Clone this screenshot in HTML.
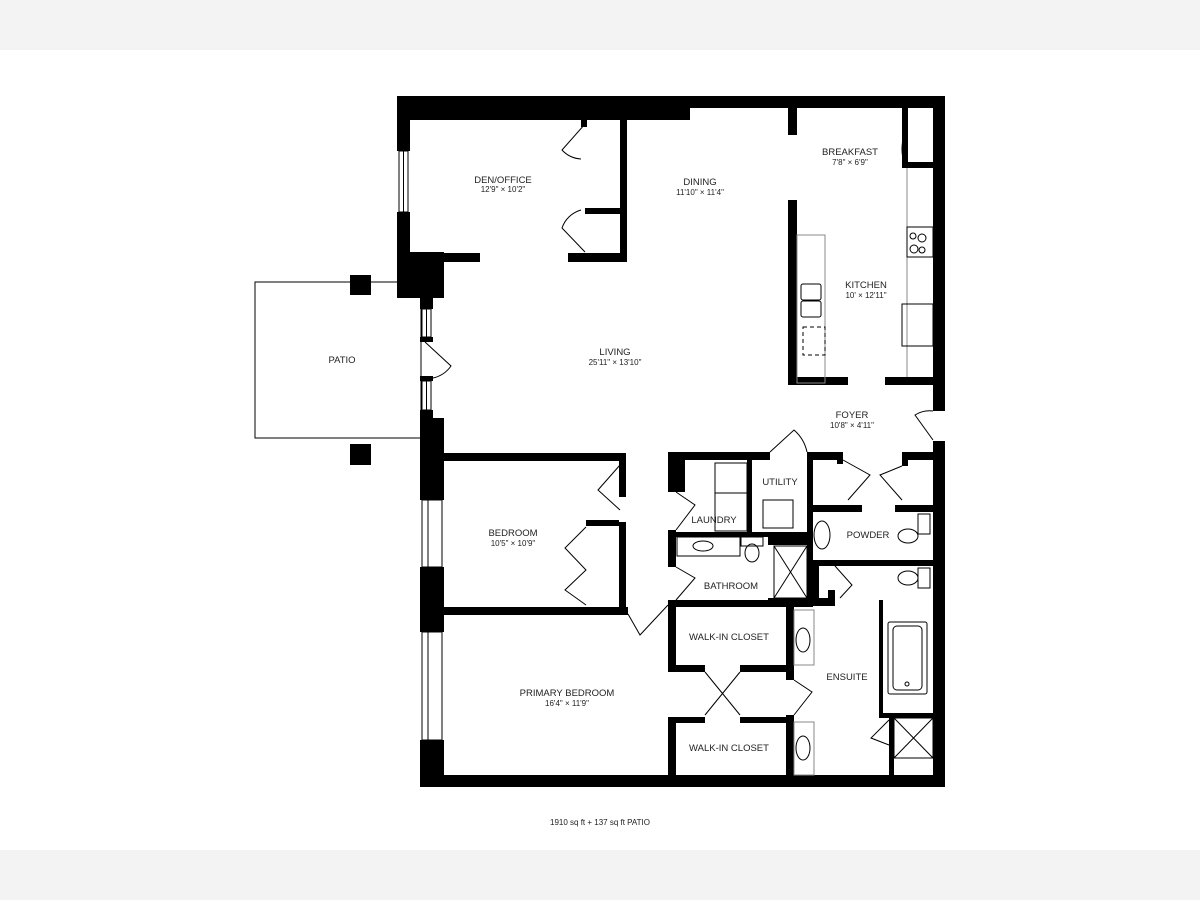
<!DOCTYPE html>
<html><head><meta charset="utf-8"><style>
html,body{margin:0;padding:0;background:#fff}
body{width:1200px;height:900px;overflow:hidden;position:relative}
.band{position:absolute;left:0;width:1200px;height:50px;background:#f3f3f3}
svg{position:absolute;left:0;top:0}
text{font-family:"Liberation Sans",sans-serif;fill:#222;text-anchor:middle}
.l{font-size:9.5px}
.d{font-size:8px}
</style></head><body>
<div class="band" style="top:0"></div>
<div class="band" style="top:850px"></div>
<svg width="1200" height="900" viewBox="0 0 1200 900">
<!-- patio -->
<rect x="255" y="282" width="166" height="156" fill="none" stroke="#000" stroke-width="1"/>
<rect x="350" y="275" width="21" height="20" fill="#000"/>
<rect x="350" y="444" width="21" height="21" fill="#000"/>
<g fill="#000">
<!-- outer walls -->
<rect x="397" y="96" width="293" height="24"/>
<rect x="690" y="96" width="255" height="12"/>
<rect x="933" y="96" width="12" height="315"/>
<rect x="933" y="441" width="12" height="346"/>
<rect x="420" y="775" width="525" height="12"/>
<rect x="397" y="96" width="13" height="55"/>
<rect x="397" y="212" width="13" height="50"/>
<rect x="397" y="252" width="47" height="46"/>
<rect x="420" y="298" width="13" height="11"/>
<rect x="420" y="337" width="13" height="5"/>
<rect x="420" y="376" width="13" height="5"/>
<rect x="420" y="410" width="13" height="8"/>
<rect x="420" y="418" width="24" height="82"/>
<rect x="420" y="567" width="24" height="65"/>
<rect x="420" y="740" width="24" height="47"/>
<!-- den -->
<rect x="410" y="253" width="70" height="9"/>
<rect x="568" y="253" width="59" height="9"/>
<rect x="620" y="120" width="7" height="142"/>
<rect x="585" y="208" width="42" height="6"/>
<rect x="581" y="115" width="6" height="12"/>
<!-- kitchen / breakfast -->
<rect x="788" y="108" width="9" height="27"/>
<rect x="788" y="200" width="9" height="185"/>
<rect x="788" y="377" width="60" height="8"/>
<rect x="885" y="377" width="60" height="8"/>
<rect x="902" y="108" width="6" height="60"/>
<rect x="902" y="162" width="31" height="6"/>
<!-- bedroom -->
<rect x="444" y="453" width="182" height="8"/>
<rect x="619" y="461" width="7" height="36"/>
<rect x="619" y="522" width="7" height="93"/>
<rect x="586" y="520" width="33" height="6"/>
<rect x="444" y="607" width="184" height="8"/>
<!-- laundry/utility/bath -->
<rect x="668" y="452" width="102" height="8"/>
<rect x="668" y="452" width="17" height="40"/>
<rect x="668" y="530" width="8" height="37"/>
<rect x="747" y="460" width="5" height="72"/>
<rect x="668" y="532" width="145" height="5"/>
<rect x="768" y="532" width="45" height="13"/>
<rect x="807" y="452" width="6" height="155"/>
<rect x="807" y="452" width="36" height="8"/>
<rect x="837" y="452" width="6" height="12"/>
<rect x="902" y="452" width="31" height="8"/>
<rect x="902" y="452" width="6" height="14"/>
<rect x="813" y="505" width="49" height="7"/>
<rect x="895" y="505" width="38" height="7"/>
<rect x="813" y="560" width="120" height="6"/>
<rect x="668" y="600" width="145" height="7"/>
<rect x="768" y="598" width="45" height="9"/>
<rect x="813" y="566" width="6" height="40"/>
<rect x="813" y="598" width="22" height="8"/>
<rect x="828" y="590" width="7" height="16"/>
<!-- walk-in closets -->
<rect x="668" y="600" width="8" height="72"/>
<rect x="668" y="665" width="37" height="7"/>
<rect x="740" y="665" width="54" height="7"/>
<rect x="786" y="600" width="8" height="80"/>
<rect x="786" y="715" width="8" height="60"/>
<rect x="668" y="717" width="37" height="6"/>
<rect x="740" y="717" width="54" height="6"/>
<rect x="668" y="717" width="8" height="58"/>
<!-- ensuite -->
<rect x="879" y="600" width="4" height="118"/>
<rect x="879" y="713" width="54" height="5"/>
<rect x="889" y="718" width="5" height="57"/>
</g>
<g fill="none" stroke="#000" stroke-width="1">
<!-- windows -->
<rect x="399" y="151" width="9" height="61"/><line x1="403.5" y1="151" x2="403.5" y2="212"/>
<rect x="422" y="309" width="9" height="28"/><line x1="426.5" y1="309" x2="426.5" y2="337"/>
<rect x="422" y="381" width="9" height="29"/><line x1="426.5" y1="381" x2="426.5" y2="410"/>
<rect x="422" y="500" width="20" height="67"/><line x1="428" y1="500" x2="428" y2="567"/>
<rect x="422" y="632" width="20" height="108"/><line x1="428" y1="632" x2="428" y2="740"/>
<rect x="790" y="275" width="6" height="67"/>
<!-- doors -->
<path d="M425 342 L451 366 A30 30 0 0 1 433 378"/>
<path d="M585 124 L562 150 A28 28 0 0 0 581 159"/>
<path d="M585 252 L562 228 A28 28 0 0 1 581 210"/>
<path d="M904 110 Q910 125 904 135 Q900 150 904 162"/>
<path d="M620 465 L598 490 L620 510"/>
<path d="M586 527 L565 548 L586 570 L565 590 L586 605"/>
<path d="M628 614 L640 635 L668 605"/>
<path d="M676 492 L695 505 L676 530"/>
<path d="M676 567 L695 578 L676 600"/>
<path d="M770 452 L794 430 A40 40 0 0 1 807 452"/>
<path d="M843 460 L870 475 L848 500"/>
<path d="M902 466 L880 475 L902 500"/>
<path d="M933 440 L915 415 A28 28 0 0 1 933 411"/>
<path d="M835 566 L852 585 L840 598"/>
<path d="M705 672 L740 715 M740 672 L705 715"/>
<path d="M794 680 L812 692 L794 715"/>
<path d="M889 720 L871 738 L889 745"/>
<!-- kitchen fixtures -->
<rect x="797" y="235" width="28" height="148" stroke="#888"/>
<rect x="801" y="284" width="20" height="16" rx="2"/><rect x="801" y="301" width="20" height="16" rx="2"/>
<rect x="803" y="327" width="22" height="28" stroke-dasharray="4 3"/>
<line x1="907" y1="168" x2="907" y2="377" stroke="#888"/>
<rect x="907" y="227" width="26" height="30"/>
<circle cx="913" cy="236" r="3"/><circle cx="922" cy="238" r="4"/><circle cx="914" cy="249" r="4"/><circle cx="922" cy="250" r="3"/>
<rect x="902" y="304" width="31" height="42"/>
<!-- laundry/utility -->
<rect x="715" y="463" width="32" height="30"/><rect x="715" y="493" width="32" height="38"/>
<rect x="763" y="500" width="30" height="28"/>
<rect x="677" y="537" width="63" height="19"/><ellipse cx="703" cy="546" rx="10" ry="5"/>
<rect x="741" y="537" width="22" height="9"/><ellipse cx="752" cy="553" rx="7" ry="9"/>
<rect x="774" y="546" width="33" height="52"/><path d="M774 546 L807 598 M807 546 L774 598"/>
<ellipse cx="822" cy="535" rx="8" ry="14"/>
<rect x="918" y="514" width="12" height="20"/><ellipse cx="908" cy="536" rx="10" ry="7"/>
<rect x="918" y="568" width="12" height="20"/><ellipse cx="908" cy="578" rx="10" ry="7"/>
<rect x="794" y="610" width="20" height="55" stroke="#888"/><ellipse cx="803" cy="640" rx="7" ry="12"/>
<rect x="794" y="722" width="20" height="53" stroke="#888"/><ellipse cx="803" cy="748" rx="7" ry="12"/>
<rect x="888" y="622" width="39" height="72" rx="2"/><rect x="893" y="626" width="29" height="64" rx="4"/>
<circle cx="907" cy="684" r="2"/>
<rect x="894" y="718" width="39" height="40"/><path d="M894 718 L933 758 M933 718 L894 758"/>
</g>
<g font-size="0"></g>
<text class="l" x="503" y="183">DEN/OFFICE</text><text class="d" x="503" y="192">12'9" × 10'2"</text>
<text class="l" x="700" y="185">DINING</text><text class="d" x="700" y="195">11'10" × 11'4"</text>
<text class="l" x="850" y="155">BREAKFAST</text><text class="d" x="850" y="165">7'8" × 6'9"</text>
<text class="l" x="866" y="288">KITCHEN</text><text class="d" x="866" y="298">10' × 12'11"</text>
<text class="l" x="615" y="355">LIVING</text><text class="d" x="615" y="365">25'11" × 13'10"</text>
<text class="l" x="342" y="363">PATIO</text>
<text class="l" x="852" y="418">FOYER</text><text class="d" x="852" y="428">10'8" × 4'11"</text>
<text class="l" x="780" y="485">UTILITY</text>
<text class="l" x="714" y="523">LAUNDRY</text>
<text class="l" x="868" y="538">POWDER</text>
<text class="l" x="731" y="589">BATHROOM</text>
<text class="l" x="513" y="536">BEDROOM</text><text class="d" x="513" y="546">10'5" × 10'9"</text>
<text class="l" x="729" y="640">WALK-IN CLOSET</text>
<text class="l" x="729" y="751">WALK-IN CLOSET</text>
<text class="l" x="847" y="680">ENSUITE</text>
<text class="l" x="567" y="696">PRIMARY BEDROOM</text><text class="d" x="567" y="706">16'4" × 11'9"</text>
<text class="d" x="600" y="825">1910 sq ft + 137 sq ft PATIO</text>
</svg>
</body></html>
